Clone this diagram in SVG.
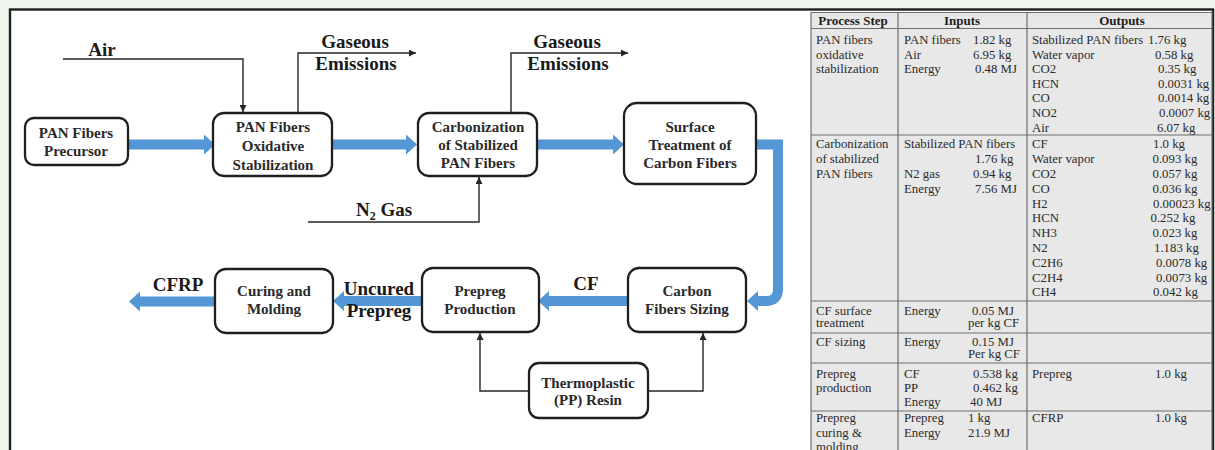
<svg xmlns="http://www.w3.org/2000/svg" width="1215" height="450" viewBox="0 0 1215 450">
  <style>
    .box { fill: #ffffff; stroke: #1f1f1f; stroke-width: 2.3; }
    .node { font-family: "Liberation Serif", "Times New Roman", serif; font-weight: bold; font-size: 15px; fill: #2a2a2a; text-anchor: middle; }
    .lbl { font-family: "Liberation Serif", "Times New Roman", serif; font-weight: bold; font-size: 19px; fill: #1a1a1a; text-anchor: middle; }
    .thin { fill: none; stroke: #262626; stroke-width: 1.4; marker-end: url(#tip); }
    .flow { fill: none; stroke: #5596d6; stroke-width: 10; marker-end: url(#bigTip); }
    .cell { font-family: "Liberation Serif", "Times New Roman", serif; font-size: 12.8px; fill: #2b2b2b; }
    .head { font-family: "Liberation Serif", "Times New Roman", serif; font-size: 13px; font-weight: bold; fill: #1e1e1e; text-anchor: middle; }
    .grid { stroke: #6e6e6e; stroke-width: 1.2; }
  </style>
  <defs>
    <marker id="tip" viewBox="0 0 8 8" refX="8" refY="4" markerWidth="7" markerHeight="7" markerUnits="userSpaceOnUse" orient="auto">
      <path d="M0,0 L8,4 L0,8 z" fill="#262626"/>
    </marker>
    <marker id="bigTip" viewBox="0 0 11 20" refX="0" refY="10" markerWidth="11" markerHeight="20" markerUnits="userSpaceOnUse" orient="auto">
      <path d="M0,0 L11,10 L0,20 z" fill="#5596d6"/>
    </marker>
  </defs>

  <!-- page background and frame -->
  <rect x="0" y="0" width="1215" height="450" fill="#eff5ec"/>
  <rect x="10" y="9.5" width="1203" height="470" fill="#ffffff" stroke="#1e1e1e" stroke-width="2.4"/>

  <!-- connectors -->
  <g id="connectors">
    <path class="thin" d="M63,59 H243 V112"/>
    <path class="thin" d="M298,113 V53 H416"/>
    <path class="thin" d="M511,113 V53 H628"/>
    <path class="thin" d="M308,222 H479 V177"/>
    <path class="thin" d="M529,391 H480 V333"/>
    <path class="thin" d="M648,391 H703 V333"/>

    <path class="flow" d="M128,144.5 H204"/>
    <path class="flow" d="M332,144.5 H406"/>
    <path class="flow" d="M537,144.5 H613"/>
    <path class="flow" style="stroke-linejoin:miter" d="M756,144.5 H778 V289 Q778,301 766,301 H758"/>
    <path class="flow" d="M628,301 H549"/>
    <path class="flow" d="M422,301 H344"/>
    <path class="flow" d="M215,301.5 H140"/>

    <text class="lbl" x="102" y="56">Air</text>
    <text class="lbl" x="355" y="48">Gaseous</text>
    <text class="lbl" x="356" y="70">Emissions</text>
    <text class="lbl" x="567" y="48">Gaseous</text>
    <text class="lbl" x="568" y="70">Emissions</text>
    <text class="lbl" x="384" y="216">N<tspan font-size="12" dy="4">2</tspan><tspan dy="-4"> Gas</tspan></text>
    <text class="lbl" x="586" y="290">CF</text>
    <text class="lbl" x="379" y="295">Uncured</text>
    <text class="lbl" x="379" y="317">Prepreg</text>
    <text class="lbl" x="178" y="291">CFRP</text>
  </g>

  <!-- process nodes -->
  <g id="pan-precursor">
    <rect class="box" x="25" y="118" width="103" height="47" rx="9"/>
    <text class="node" x="76" y="138">PAN Fibers</text>
    <text class="node" x="76" y="156">Precursor</text>
  </g>
  <g id="oxidative-stabilization">
    <rect class="box" x="213" y="113" width="119" height="63" rx="11"/>
    <text class="node" x="273" y="132">PAN Fibers</text>
    <text class="node" x="273" y="151">Oxidative</text>
    <text class="node" x="273" y="170">Stabilization</text>
  </g>
  <g id="carbonization">
    <rect class="box" x="418" y="113" width="119" height="63" rx="11"/>
    <text class="node" x="478" y="132">Carbonization</text>
    <text class="node" x="478" y="150">of Stabilized</text>
    <text class="node" x="478" y="168">PAN Fibers</text>
  </g>
  <g id="surface-treatment">
    <rect class="box" x="624" y="103" width="132" height="81" rx="13"/>
    <text class="node" x="690" y="132">Surface</text>
    <text class="node" x="690" y="150">Treatment of</text>
    <text class="node" x="690" y="168">Carbon Fibers</text>
  </g>
  <g id="fiber-sizing">
    <rect class="box" x="628" y="268" width="118" height="64" rx="11"/>
    <text class="node" x="687" y="296">Carbon</text>
    <text class="node" x="687" y="314">Fibers Sizing</text>
  </g>
  <g id="prepreg-production">
    <rect class="box" x="422" y="268" width="117" height="64" rx="11"/>
    <text class="node" x="480" y="296">Prepreg</text>
    <text class="node" x="480" y="314">Production</text>
  </g>
  <g id="curing-molding">
    <rect class="box" x="215" y="269" width="118" height="64" rx="11"/>
    <text class="node" x="274" y="296">Curing and</text>
    <text class="node" x="274" y="314">Molding</text>
  </g>
  <g id="pp-resin">
    <rect class="box" x="529" y="363" width="119" height="55" rx="10"/>
    <text class="node" x="588" y="388">Thermoplastic</text>
    <text class="node" x="588" y="405">(PP) Resin</text>
  </g>

  <!-- inventory table -->
  <g id="inventory-table">
    <rect x="811" y="12" width="401" height="440" fill="#e8e8e8"/>
    <line class="grid" x1="811" y1="12.5" x2="1212" y2="12.5" stroke-width="2"/>
    <line class="grid" x1="811" y1="28.5" x2="1212" y2="28.5" stroke-width="1.6"/>
    <line class="grid" x1="811" y1="135" x2="1212" y2="135"/>
    <line class="grid" x1="811" y1="301" x2="1212" y2="301"/>
    <line class="grid" x1="811" y1="333" x2="1212" y2="333"/>
    <line class="grid" x1="811" y1="363" x2="1212" y2="363"/>
    <line class="grid" x1="811" y1="411" x2="1212" y2="411"/>
    <line class="grid" x1="811" y1="12" x2="811" y2="450"/>
    <line class="grid" x1="898" y1="12" x2="898" y2="450"/>
    <line class="grid" x1="1027" y1="12" x2="1027" y2="450"/>
    <line class="grid" x1="1212" y1="12" x2="1212" y2="450"/>

    <text class="head" x="853" y="25">Process Step</text>
    <text class="head" x="962" y="25">Inputs</text>
    <text class="head" x="1122" y="25">Outputs</text>

    <g class="cell">
      <!-- oxidative stabilization -->
      <text x="816" y="44">PAN fibers</text>
      <text x="816" y="58.6">oxidative</text>
      <text x="816" y="73.2">stabilization</text>
      <text x="904" y="44">PAN fibers</text><text x="973" y="44">1.82 kg</text>
      <text x="904" y="58.6">Air</text><text x="973" y="58.6">6.95 kg</text>
      <text x="904" y="73.2">Energy</text><text x="975" y="73.2">0.48 MJ</text>
      <text x="1032" y="44">Stabilized PAN fibers</text><text x="1148" y="44">1.76 kg</text>
      <text x="1032" y="58.6">Water vapor</text><text x="1155" y="58.6">0.58 kg</text>
      <text x="1032" y="73.2">CO2</text><text x="1158" y="73.2">0.35 kg</text>
      <text x="1032" y="87.8">HCN</text><text x="1158" y="87.8">0.0031 kg</text>
      <text x="1032" y="102.4">CO</text><text x="1158" y="102.4">0.0014 kg</text>
      <text x="1032" y="117">NO2</text><text x="1159" y="117">0.0007 kg</text>
      <text x="1032" y="131.6">Air</text><text x="1157" y="131.6">6.07 kg</text>

      <!-- carbonization -->
      <text x="816" y="148.3">Carbonization</text>
      <text x="816" y="163.1">of stabilized</text>
      <text x="816" y="177.9">PAN fibers</text>
      <text x="904" y="148.3">Stabilized PAN fibers</text>
      <text x="975" y="163.1">1.76 kg</text>
      <text x="904" y="177.9">N2 gas</text><text x="973" y="177.9">0.94 kg</text>
      <text x="904" y="192.7">Energy</text><text x="975" y="192.7">7.56 MJ</text>
      <text x="1032" y="148.3">CF</text><text x="1153" y="148.3">1.0 kg</text>
      <text x="1032" y="163.1">Water vapor</text><text x="1152.5" y="163.1">0.093 kg</text>
      <text x="1032" y="177.9">CO2</text><text x="1152.5" y="177.9">0.057 kg</text>
      <text x="1032" y="192.7">CO</text><text x="1152.5" y="192.7">0.036 kg</text>
      <text x="1032" y="207.5">H2</text><text x="1153" y="207.5">0.00023 kg</text>
      <text x="1032" y="222.3">HCN</text><text x="1150.5" y="222.3">0.252 kg</text>
      <text x="1032" y="237.1">NH3</text><text x="1152.5" y="237.1">0.023 kg</text>
      <text x="1032" y="251.9">N2</text><text x="1154" y="251.9">1.183 kg</text>
      <text x="1032" y="266.7">C2H6</text><text x="1156" y="266.7">0.0078 kg</text>
      <text x="1032" y="281.5">C2H4</text><text x="1156" y="281.5">0.0073 kg</text>
      <text x="1032" y="296.3">CH4</text><text x="1153" y="296.3">0.042 kg</text>

      <!-- surface treatment -->
      <text x="816" y="315">CF surface</text>
      <text x="816" y="327">treatment</text>
      <text x="904" y="315">Energy</text><text x="972" y="315">0.05 MJ</text>
      <text x="968" y="327">per kg CF</text>

      <!-- sizing -->
      <text x="816" y="346">CF sizing</text>
      <text x="904" y="346">Energy</text><text x="972" y="346">0.15 MJ</text>
      <text x="968" y="358">Per kg CF</text>

      <!-- prepreg production -->
      <text x="816" y="378">Prepreg</text>
      <text x="816" y="392">production</text>
      <text x="904" y="378">CF</text><text x="973" y="378">0.538 kg</text>
      <text x="904" y="392">PP</text><text x="973" y="392">0.462 kg</text>
      <text x="904" y="406">Energy</text><text x="970" y="406">40 MJ</text>
      <text x="1032" y="378">Prepreg</text><text x="1155" y="378">1.0 kg</text>

      <!-- curing and molding -->
      <text x="816" y="422">Prepreg</text>
      <text x="816" y="436.5">curing &amp;</text>
      <text x="816" y="451">molding</text>
      <text x="904" y="422">Prepreg</text><text x="968" y="422">1 kg</text>
      <text x="904" y="436.5">Energy</text><text x="968" y="436.5">21.9 MJ</text>
      <text x="1032" y="422">CFRP</text><text x="1155" y="422">1.0 kg</text>
    </g>
  </g>
</svg>
